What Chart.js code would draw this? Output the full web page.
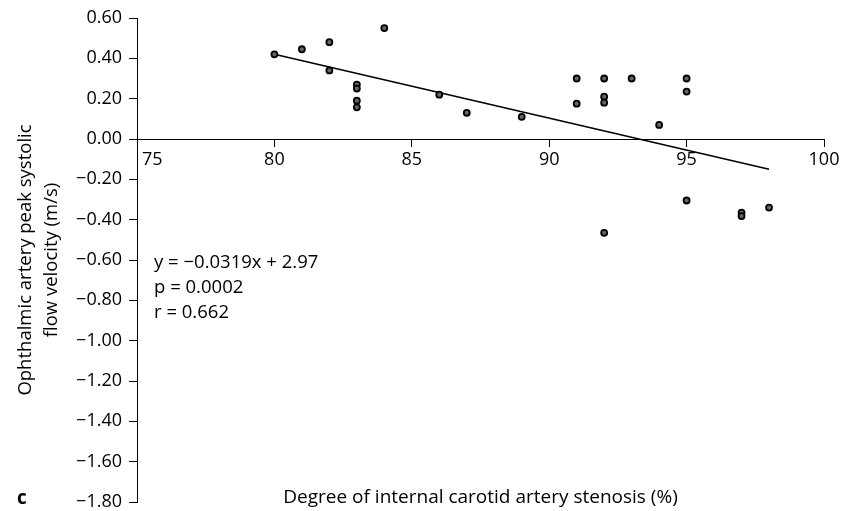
<!DOCTYPE html>
<html>
<head>
<meta charset="utf-8">
<script src="https://cdn.jsdelivr.net/npm/chart.js@4"></script>
<style>
  html, body { margin: 0; padding: 0; background: #fff; }
  canvas { display: block; }
</style>
</head>
<body>
<canvas id="c" width="854" height="511"></canvas>
<script>
// Degree of internal carotid artery stenosis (%)
const stenosis = [80, 81, 82, 82, 83, 83, 83, 83, 84, 86, 87, 89, 91, 91, 92, 92, 92, 92, 93, 94, 95, 95, 95, 97, 97, 98];
// Ophthalmic artery peak systolic flow velocity (m/s)
const velocity = [0.42, 0.445, 0.48, 0.34, 0.27, 0.25, 0.19, 0.157, 0.55, 0.22, 0.13, 0.11, 0.30, 0.175, 0.30, 0.21, 0.18, -0.465, 0.30, 0.07, 0.30, 0.235, -0.305, -0.365, -0.382, -0.34];
// Regression line end points
const trendX = [80, 98];
const trendY = [0.42, -0.15];
const statsLines = ['y = \u22120.0319x + 2.97', 'p = 0.0002', 'r = 0.662'];
const xTitle = 'Degree of internal carotid artery stenosis (%)';
const yTitle = ['Ophthalmic artery peak systolic', 'flow velocity (m/s)'];
const panelLetter = 'c';
const xMin = 75, xMax = 100, xStep = 5;
const yMin = -1.8, yMax = 0.6, yStep = 0.2;

const FONT = '"Open Sans", "Noto Sans", sans-serif';
const TICK_FS = 18;
const TITLE_FS = 19;
const TEXT_FS = 18.5;

const points = stenosis.map((s, i) => ({ x: s, y: velocity[i] }));
const trend = trendX.map((s, i) => ({ x: s, y: trendY[i] }));

const annotate = {
  id: 'annotate',
  afterDraw(chart) {
    const { ctx, chartArea, scales: { x, y } } = chart;
    ctx.save();
    ctx.fillStyle = '#000';
    ctx.textBaseline = 'middle';
    ctx.textAlign = 'left';
    // first x tick label sits just right of the y axis
    ctx.font = TICK_FS + 'px ' + FONT;
    ctx.fillText(String(xMin), x.getPixelForValue(xMin) + 5, y.getPixelForValue(0) + 21);
    // regression statistics
    ctx.font = TEXT_FS + 'px ' + FONT;
    statsLines.forEach((t, i) => {
      ctx.fillText(t, x.getPixelForValue(75.62), y.getPixelForValue(-0.615) + i * 25);
    });
    // x axis title
    ctx.font = TITLE_FS + 'px ' + FONT;
    ctx.textAlign = 'center';
    ctx.fillText(xTitle, (chartArea.left + chartArea.right) / 2, chartArea.bottom - 4);
    // panel letter
    ctx.font = 'bold ' + TITLE_FS + 'px ' + FONT;
    ctx.textAlign = 'left';
    ctx.fillText(panelLetter, 17, chartArea.bottom - 3);
    ctx.restore();
  }
};

new Chart(document.getElementById('c'), {
  type: 'scatter',
  data: {
    datasets: [
      {
        type: 'scatter',
        data: points,
        pointRadius: 3,
        pointBorderWidth: 1.8,
        borderColor: '#000',
        backgroundColor: '#666',
        order: 1
      },
      {
        type: 'line',
        data: trend,
        borderColor: '#000',
        borderWidth: 1.6,
        pointRadius: 0,
        fill: false,
        tension: 0,
        order: 2
      }
    ]
  },
  options: {
    responsive: false,
    animation: false,
    devicePixelRatio: 1,
    layout: { padding: { left: 0, top: 18, right: 30, bottom: 9 } },
    plugins: { legend: { display: false }, tooltip: { enabled: false } },
    scales: {
      x: {
        type: 'linear',
        min: xMin, max: xMax,
        position: { y: 0 },
        ticks: {
          stepSize: xStep,
          color: '#000',
          padding: 3,
          font: { family: FONT, size: TICK_FS, lineHeight: 1.2 },
          callback: (v) => (v === xMin ? '' : String(v))
        },
        grid: { display: true, drawOnChartArea: false, drawTicks: true, tickLength: 7, color: '#000', lineWidth: 1 },
        border: { display: true, color: '#000', width: 1 }
      },
      y: {
        type: 'linear',
        min: yMin, max: yMax,
        position: 'left',
        afterFit: (s) => { s.width = 137; s.paddingTop = 0; s.paddingBottom = 0; },
        ticks: {
          stepSize: yStep,
          color: '#000',
          padding: 7,
          font: { family: FONT, size: TICK_FS, lineHeight: 1.0 },
          callback: (v) => {
            const r = Math.round(v * 100) / 100;
            const t = Math.abs(r).toFixed(2);
            return r < 0 ? '\u2212' + t : t;
          }
        },
        grid: { display: true, drawOnChartArea: false, drawTicks: true, tickLength: 8, color: '#000', lineWidth: 1 },
        border: { display: true, color: '#000', width: 1 },
        title: {
          display: true,
          text: yTitle,
          color: '#000',
          padding: { top: 13, bottom: 0 },
          font: { family: FONT, size: TEXT_FS, lineHeight: 26 / TEXT_FS }
        }
      }
    }
  },
  plugins: [annotate]
});
</script>
</body>
</html>
